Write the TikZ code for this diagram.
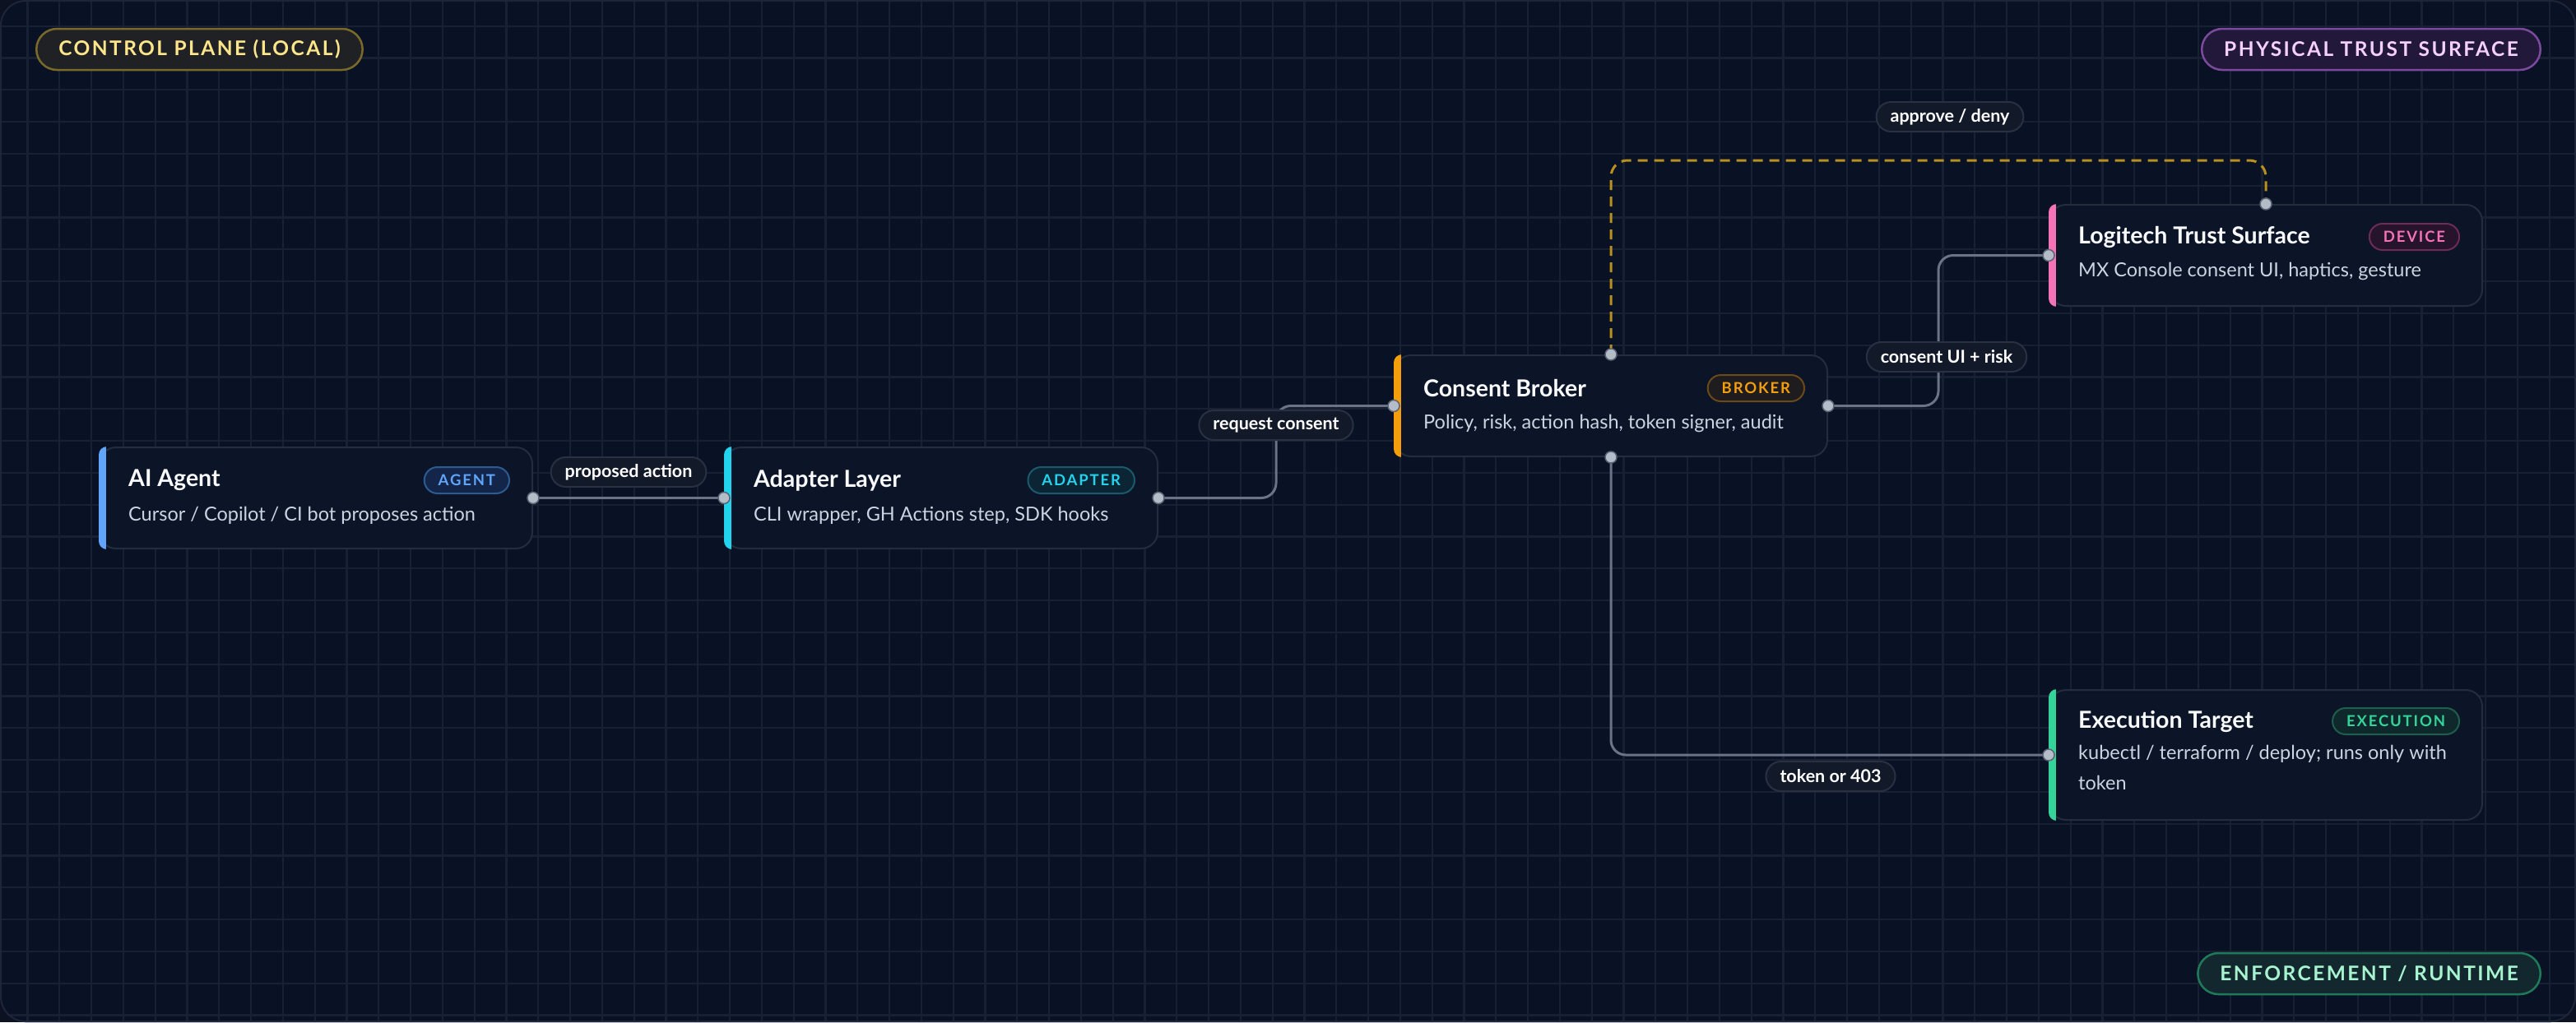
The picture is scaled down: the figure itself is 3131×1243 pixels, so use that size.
\documentclass[tikz,border=0pt]{standalone}
\usepackage{fontspec}
\setmainfont{Lato}
\newfontfamily\trackfont{Lato}[LetterSpace=10]
\usetikzlibrary{calc}
\definecolor{bgout}{HTML}{0D1222}
\definecolor{bg}{HTML}{091125}
\definecolor{gridc}{HTML}{182134}
\definecolor{framec}{HTML}{1E2538}
\definecolor{cardfill}{HTML}{0C1427}
\definecolor{cardline}{HTML}{242C3E}
\definecolor{titlec}{HTML}{F8FAFC}
\definecolor{subc}{HTML}{CBD5E1}
\definecolor{wire}{HTML}{6B7486}
\definecolor{dotfill}{HTML}{B4BCC8}
\definecolor{dotline}{HTML}{5B6475}
\definecolor{gold}{HTML}{B8901E}
\definecolor{lblfill}{HTML}{121929}
\definecolor{lblline}{HTML}{283042}
\definecolor{agentc}{HTML}{60A5FA}\definecolor{agentbf}{HTML}{13264A}\definecolor{agentbd}{HTML}{2D5A8F}
\definecolor{adaptc}{HTML}{22D3EE}\definecolor{adaptbf}{HTML}{0C2535}\definecolor{adaptbd}{HTML}{1B5A6C}
\definecolor{brokc}{HTML}{F59E0B}\definecolor{brokbf}{HTML}{1E1C1F}\definecolor{brokbd}{HTML}{6A4A18}
\definecolor{devc}{HTML}{F472B6}\definecolor{devbf}{HTML}{26142C}\definecolor{devbd}{HTML}{6B2C55}
\definecolor{execc}{HTML}{34D399}\definecolor{execbf}{HTML}{0F282C}\definecolor{execbd}{HTML}{1E5E4A}
\definecolor{ctrlt}{HTML}{FDE68A}\definecolor{ctrlf}{HTML}{1F2125}\definecolor{ctrld}{HTML}{7A6A2A}
\definecolor{physt}{HTML}{F5D0FE}\definecolor{physf}{HTML}{22183A}\definecolor{physd}{HTML}{7B4A9C}
\definecolor{enft}{HTML}{A7F3D0}\definecolor{enff}{HTML}{13282E}\definecolor{enfd}{HTML}{1F7A5A}
\tikzset{
  card/.style={draw=cardline, line width=2pt, fill=cardfill, rounded corners=20pt,
    minimum width=526pt, minimum height=123pt, inner sep=0pt, anchor=north west},
  ctitle/.style={anchor=west, inner sep=0pt, text=titlec, font=\bfseries\fontsize{28.5}{32}\selectfont},
  csub/.style={anchor=west, inner sep=0pt, text=subc, align=left, font=\fontsize{23.5}{37}\selectfont},
  badge/.style={anchor=east, rounded corners=16pt, minimum height=32pt, inner xsep=17pt, inner ysep=0pt,
    line width=2pt, font=\trackfont\bfseries\fontsize{18.5}{18}\selectfont},
  hdr/.style={rounded corners=25pt, minimum height=50pt, inner xsep=27pt, inner ysep=0pt,
    line width=2.5pt, font=\trackfont\bfseries\fontsize{24.5}{24}\selectfont},
  wireline/.style={draw=wire, line width=3pt, rounded corners=18pt},
  goldline/.style={draw=gold, line width=3pt, rounded corners=20pt, dash pattern=on 12pt off 8pt},
  lbl/.style={fill=lblfill, draw=lblline, line width=2pt, rounded corners=18pt, minimum height=36pt,
    inner xsep=17pt, inner ysep=0pt, text=white, font=\bfseries\fontsize{21.5}{21}\selectfont},
  dotp/.style={fill=dotfill, draw=dotline, line width=1.5pt}
}
\newcommand{\accentbar}[2]{%
  \begin{scope}
    \clip[rounded corners=10pt] (#1.south west) rectangle ([xshift=30pt]#1.north west);
    \fill[#2] (#1.south west) rectangle ([xshift=9pt]#1.north west);
  \end{scope}}
\begin{document}
\begin{tikzpicture}[x=1pt,y=-1pt]
\useasboundingbox (0,0) rectangle (3131,1243);
\fill[bgout] (0,0) rectangle (3131,1243);
\fill[bg, rounded corners=30pt] (0,0) rectangle (3131,1243);
\begin{scope}
  \clip[rounded corners=30pt] (0,0) rectangle (3131,1243);
  \foreach \i in {0,...,80} \draw[gridc, line width=2.2pt] (33.5+\i*38.8,0) -- (33.5+\i*38.8,1243);
  \foreach \j in {0,...,31} \draw[gridc, line width=2.2pt] (0,31.7+\j*38.8) -- (3131,31.7+\j*38.8);
\end{scope}
\draw[framec, line width=2pt, rounded corners=30pt] (1,1) rectangle (3130,1242);

% header pills
\node[hdr, anchor=west, fill=ctrlf, draw=ctrld, text=ctrlt] (hctrl) at (43,60) {CONTROL PLANE (LOCAL)};
\node[hdr, anchor=east, fill=physf, draw=physd, text=physt] (hphys) at (3089,60) {PHYSICAL TRUST SURFACE};
\node[hdr, anchor=east, fill=enff, draw=enfd, text=enft] (henf) at (3089,1184) {ENFORCEMENT / RUNTIME};

% cards
\node[card] (agent) at (120,543) {};
\node[card] (adapter) at (880,543) {};
\node[card] (broker) at (1694,431) {};
\node[card] (device) at (2490,248) {};
\node[card, minimum height=158pt] (exec) at (2490,838) {};
\accentbar{agent}{agentc}
\accentbar{adapter}{adaptc}
\accentbar{broker}{brokc}
\accentbar{device}{devc}
\accentbar{exec}{execc}

% card texts
\node[ctitle] (agentT) at ($(agent.north west)+(36,41)$) {AI Agent};
\node[csub] (agentS) at ($(agent.north west)+(36,84)$) {Cursor / Copilot / CI bot proposes action};
\node[badge, text=agentc, fill=agentbf, draw=agentbd] (agentB) at ($(agent.north east)+(-28,41)$) {AGENT};

\node[ctitle] (adapterT) at ($(adapter.north west)+(36,41)$) {Adapter Layer};
\node[csub] (adapterS) at ($(adapter.north west)+(36,84)$) {CLI wrapper, GH Actions step, SDK hooks};
\node[badge, text=adaptc, fill=adaptbf, draw=adaptbd] (adapterB) at ($(adapter.north east)+(-28,41)$) {ADAPTER};

\node[ctitle] (brokerT) at ($(broker.north west)+(36,41)$) {Consent Broker};
\node[csub] (brokerS) at ($(broker.north west)+(36,84)$) {Policy, risk, action hash, token signer, audit};
\node[badge, text=brokc, fill=brokbf, draw=brokbd] (brokerB) at ($(broker.north east)+(-28,41)$) {BROKER};

\node[ctitle] (deviceT) at ($(device.north west)+(36,40)$) {Logitech Trust Surface};
\node[csub] (deviceS) at ($(device.north west)+(36,82)$) {MX Console consent UI, haptics, gesture};
\node[badge, text=devc, fill=devbf, draw=devbd] (deviceB) at ($(device.north east)+(-28,40)$) {DEVICE};

\node[ctitle] (execT) at ($(exec.north west)+(36,39)$) {Execution Target};
\node[csub, anchor=north west] (execS) at ($(exec.north west)+(36,68)$) {kubectl / terraform / deploy; runs only with\\token};
\node[badge, text=execc, fill=execbf, draw=execbd] (execB) at ($(exec.north east)+(-28,39)$) {EXECUTION};

% connectors
\draw[wireline] (agent.east) -- (adapter.west);
\draw[wireline] (adapter.east) -| ($(adapter.east)!0.5!(broker.west)$) |- (broker.west);
\draw[wireline] (broker.east) -| ($(broker.east)!0.5!(device.west)$) |- (device.west);
\draw[wireline] (broker.south) |- (exec.west);
\coordinate (topbend) at ($(broker.north)+(0,-236)$);
\draw[goldline] (broker.north) -- (topbend) -| (device.north);

% dots
\foreach \p in {agent.east, adapter.west, adapter.east, broker.west, broker.east, broker.north, broker.south, device.west, device.north, exec.west}
  \filldraw[dotp] (\p) circle (7pt);

% labels
\node[lbl] (l1) at (764,574) {proposed action};
\node[lbl] (l2) at (1551,517) {request consent};
\node[lbl] (l3) at (2366,434) {consent UI + risk};
\node[lbl] (l4) at (2225,944) {token or 403};
\node[lbl] (l5) at (2370,142) {approve / deny};
\end{tikzpicture}
\end{document}
